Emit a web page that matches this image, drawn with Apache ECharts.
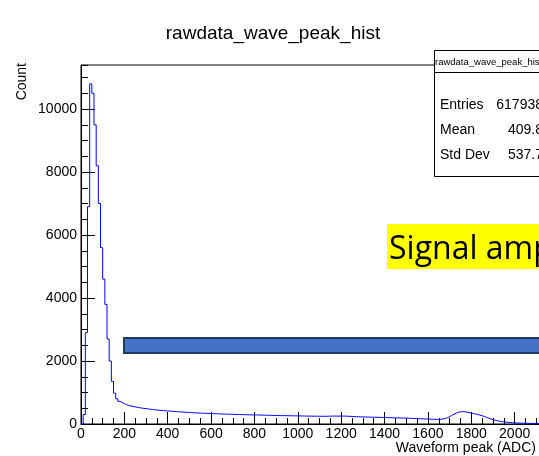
<!DOCTYPE html>
<html>
<head>
<meta charset="utf-8">
<script src="https://cdn.jsdelivr.net/npm/echarts@6/dist/echarts.min.js"></script>
<style>
  html, body { margin: 0; padding: 0; background: #fff; }
  #chart { width: 539px; height: 456px; }
</style>
</head>
<body>
<div id="chart"></div>
<script>
// Histogram of waveform peak amplitudes, 10 ADC per bin starting at 0.
const binStart = 0;
const binWidth = 10;
const counts = [
  0, 300, 2900, 6900, 10800, 10500, 9500, 8200, 7000, 5600,
  4600, 3800, 2700, 2000, 1350, 980, 800, 720, 680, 650,
  615, 590, 572, 560, 541, 530, 518, 506, 497, 488,
  480, 468, 462, 451, 446, 437, 431, 428, 419, 414,
  410, 404, 397, 395, 388, 383, 380, 372, 371, 365,
  362, 356, 355, 349, 346, 343, 341, 336, 334, 331,
  330, 325, 324, 320, 318, 316, 313, 311, 309, 307,
  305, 303, 300, 299, 297, 294, 293, 291, 290, 288,
  290, 285, 284, 282, 279, 278, 276, 275, 272, 271,
  270, 268, 266, 265, 264, 262, 261, 259, 260, 257,
  258, 255, 254, 252, 251, 250, 249, 247, 248, 245,
  245, 244, 246, 247, 249, 251, 252, 250, 251, 253,
  252, 250, 247, 243, 240, 236, 233, 231, 228, 226,
  222, 221, 219, 217, 215, 214, 212, 210, 208, 205,
  203, 201, 200, 198, 196, 194, 192, 190, 188, 185,
  183, 181, 178, 176, 173, 170, 167, 164, 160, 157,
  154, 150, 148, 146, 147, 151, 160, 176, 200, 232,
  270, 310, 345, 372, 388, 392, 388, 378, 362, 345,
  330, 318, 303, 285, 262, 238, 212, 188, 163, 140,
  120, 103, 90, 78, 68, 60, 52, 46, 41, 37,
  33, 30, 27, 25, 23, 21, 19, 18, 17, 16,
  15, 14, 13, 12, 12, 11, 10, 10, 9, 9
];

// Axis ranges and tick spacing
const xRange = [0, 2200];
const xMajor = 200;
const yRange = [0, 11400];
const yMajor = 2000;
const yMinor = 500;

// Statistics box contents
const histName = 'rawdata_wave_peak_hist';
const statNames = ['Entries', 'Mean', 'Std Dev'];
const statValues = ['617938', '409.8', '537.7'];

const chartTitle = 'rawdata_wave_peak_hist';
const xTitle = 'Waveform peak (ADC)';
const yTitle = 'Count';
const calloutText = 'Signal amp';

// Step-line points: each bin's count held from its lower edge to the next edge
const stepData = counts.map((c, i) => [binStart + i * binWidth, c]);
stepData.push([binStart + counts.length * binWidth, counts[counts.length - 1]]);

const FONT = 'Liberation Sans, Arial, Helvetica, sans-serif';
const plain = v => String(v);
const chart = echarts.init(document.getElementById('chart'), null, { renderer: 'canvas' });

const statRows = [];
statNames.forEach((name, i) => {
  const y = 105 + i * 25;
  statRows.push({
    type: 'text', x: 440, y: y, z: 101,
    style: { text: name, font: '14px ' + FONT, fill: '#000', align: 'left', verticalAlign: 'middle' }
  });
  statRows.push({
    type: 'text', x: 543, y: y, z: 101,
    style: { text: statValues[i], font: '14px ' + FONT, fill: '#000', align: 'right', verticalAlign: 'middle' }
  });
});

chart.setOption({
  animation: false,
  backgroundColor: '#fff',
  title: {
    text: chartTitle,
    left: 273, top: 24, padding: 0, textAlign: 'center',
    textStyle: { fontFamily: FONT, fontSize: 19, fontWeight: 'normal', color: '#000' }
  },
  grid: {
    left: 81, top: 65, width: 477, height: 359,
    outerBoundsMode: 'none', containLabel: false,
    show: true, borderColor: '#000', borderWidth: 1, backgroundColor: 'transparent'
  },
  xAxis: {
    type: 'value', min: xRange[0], max: xRange[1], interval: xMajor,
    axisLine: { show: true, onZero: false, lineStyle: { color: '#000', width: 1 } },
    axisTick: { show: true, inside: true, length: 12, lineStyle: { color: '#000' } },
    minorTick: { show: true, splitNumber: 4, length: 6, lineStyle: { color: '#000' } },
    axisLabel: { margin: 3, color: '#000', fontFamily: FONT, fontSize: 14, formatter: plain },
    splitLine: { show: false }
  },
  yAxis: [
    {
      type: 'value', min: yRange[0], max: yRange[1], interval: yMajor,
      axisLine: { show: true, onZero: false, lineStyle: { color: '#000', width: 1 } },
      axisTick: { show: true, inside: true, length: 14, lineStyle: { color: '#000' } },
      axisLabel: { margin: 4, color: '#000', fontFamily: FONT, fontSize: 14, showMaxLabel: false, formatter: plain },
      splitLine: { show: false }
    },
    {
      // minor ticks every 500 counts, drawn on the same left edge
      type: 'value', min: yRange[0], max: yRange[1], interval: yMinor, position: 'left',
      axisLine: { show: false, onZero: false },
      axisTick: { show: true, inside: true, length: 7, lineStyle: { color: '#000' } },
      axisLabel: { show: false },
      splitLine: { show: false }
    }
  ],
  series: [{
    type: 'line', step: 'end', data: stepData, yAxisIndex: 0,
    showSymbol: false, symbol: 'none',
    lineStyle: { color: '#0000ff', width: 1 },
    clip: true
  }],
  graphic: [
    // axis titles
    {
      type: 'text', x: 22, y: 63, rotation: Math.PI / 2, z: 100,
      style: { text: yTitle, font: '14px ' + FONT, fill: '#000', align: 'right', verticalAlign: 'middle' }
    },
    {
      type: 'text', x: 536, y: 448, z: 100,
      style: { text: xTitle, font: '14px ' + FONT, fill: '#000', align: 'right', verticalAlign: 'middle' }
    },
    // statistics box
    {
      type: 'rect', shape: { x: 434.5, y: 50.5, width: 200, height: 126 }, z: 100,
      style: { fill: '#fff', stroke: '#000', lineWidth: 1 }
    },
    {
      type: 'line', shape: { x1: 434.5, y1: 72.5, x2: 640, y2: 72.5 }, z: 100,
      style: { stroke: '#000', lineWidth: 1 }
    },
    {
      type: 'text', x: 435, y: 62, z: 101,
      style: { text: histName, font: '9.5px ' + FONT, fill: '#000', align: 'left', verticalAlign: 'middle' }
    },
    ...statRows,
    // callout label
    {
      type: 'text', x: 387, y: 224, z: 102,
      style: {
        text: calloutText, font: '32px "Open Sans", sans-serif', fill: '#000', lineHeight: 31,
        backgroundColor: '#ffff00', padding: [10, 6, 4, 2], align: 'left', verticalAlign: 'top'
      }
    },
    // horizontal marker bar
    {
      type: 'rect', shape: { x: 124, y: 338, width: 440, height: 15 }, z: 102,
      style: { fill: '#4472c4', stroke: '#1f3864', lineWidth: 2 }
    }
  ]
});
</script>
</body>
</html>
